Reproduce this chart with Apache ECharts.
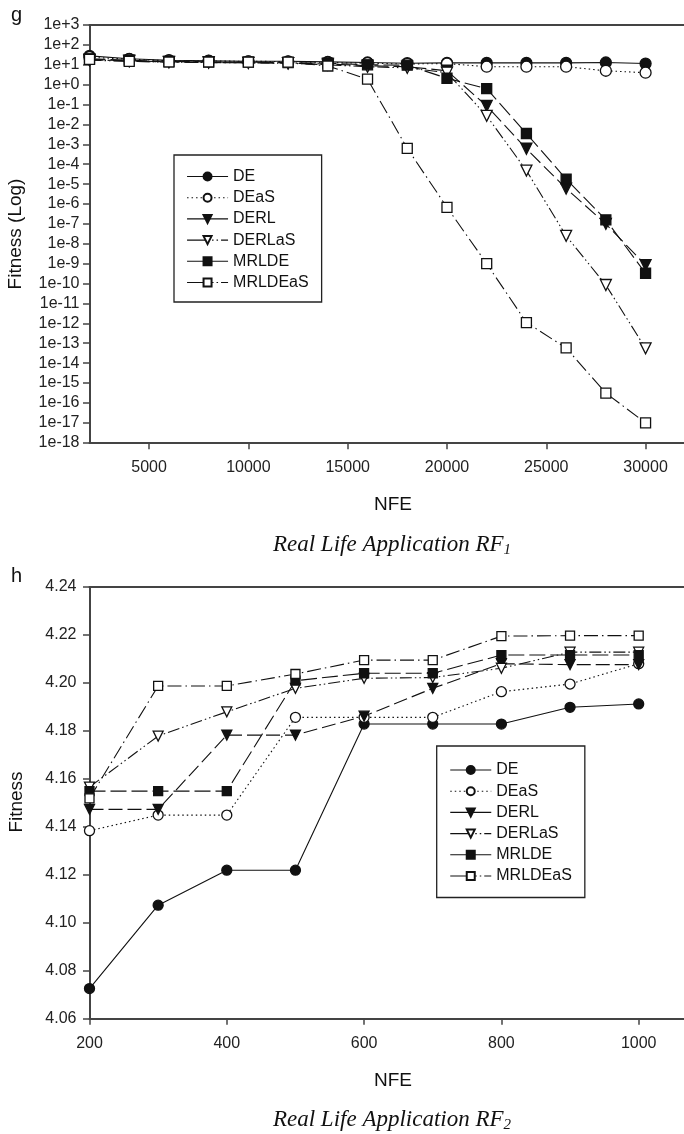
<!DOCTYPE html>
<html><head><meta charset="utf-8">
<script src="https://cdn.jsdelivr.net/npm/echarts@6/dist/echarts.min.js"></script>
<style>html,body{margin:0;padding:0;background:#fff}#c{width:684px;height:1134px}</style>
</head><body><div id="c"></div>
<script>
// ---------------- data ----------------
const seriesNames = ['DE', 'DEaS', 'DERL', 'DERLaS', 'MRLDE', 'MRLDEaS'];

// Panel g : Real Life Application RF1 (log fitness)
const nfeTop = [2000, 4000, 6000, 8000, 10000, 12000, 14000, 16000, 18000, 20000, 22000, 24000, 26000, 28000, 30000];
const topDE      = [28, 20, 17, 16, 15, 15, 14, 13, 12, 12.5, 12.5, 12.5, 12.5, 13, 11.5];
const topDEaS    = [24, 19, 16, 15.5, 15, 14.5, 13, 12, 11, 11.5, 8, 8, 8, 5, 4];
const topDERL    = [18, 16, 14, 13, 12.5, 12, 11, 9, 8, 5, 0.085, 6e-4, 6e-6, 1e-7, 8.5e-10];
const topDERLaS  = [17, 15, 13.5, 13, 12.5, 12, 10, 8, 7, 4, 0.027, 4.8e-5, 2.5e-8, 8.5e-11, 5.5e-14];
const topMRLDE   = [20, 17, 15, 14, 13.5, 13, 12, 10, 9.5, 2.1, 0.63, 3.5e-3, 1.8e-5, 1.6e-7, 3.3e-10];
const topMRLDEaS = [18.6, 15, 13.8, 13.8, 13.5, 13.5, 8.7, 1.9, 6.3e-4, 6.8e-7, 1e-9, 1.1e-12, 5.8e-14, 3.1e-16, 1e-17];
const topXTicks  = [5000, 10000, 15000, 20000, 25000, 30000];

// Panel h : Real Life Application RF2
const nfeBottom = [200, 300, 400, 500, 600, 700, 800, 900, 1000];
const botDE      = [4.0724, 4.1072, 4.1218, 4.1218, 4.1828, 4.1828, 4.1828, 4.1898, 4.1912];
const botDEaS    = [4.1383, 4.1448, 4.1448, 4.1856, 4.1856, 4.1856, 4.1963, 4.1995, 4.2080];
const botDERL    = [4.1472, 4.1472, 4.1782, 4.1782, 4.1861, 4.1977, 4.2080, 4.2076, 4.2076];
const botDERLaS  = [4.1565, 4.1778, 4.1879, 4.1977, 4.2019, 4.2022, 4.2061, 4.2128, 4.2128];
const botMRLDE   = [4.1548, 4.1548, 4.1548, 4.2009, 4.2040, 4.2040, 4.2116, 4.2116, 4.2116];
const botMRLDEaS = [4.1518, 4.1987, 4.1987, 4.2037, 4.2095, 4.2095, 4.2195, 4.2197, 4.2197];
const bottomXTicks = [200, 400, 600, 800, 1000];

// ---------------- styles ----------------
const ink = '#111';
const axisCol = '#444';
const triDown = 'path://M0,0L10,0L5,9Z';
const styleOf = {
  DE:      {symbol: 'circle', fill: ink,    dash: 'solid',            legendDash: 'solid'},
  DEaS:    {symbol: 'circle', fill: '#fff', dash: [1.5, 3],           legendDash: [1.5, 3]},
  DERL:    {symbol: triDown,  fill: ink,    dash: [14, 5],            legendDash: 'solid'},
  DERLaS:  {symbol: triDown,  fill: '#fff', dash: [12, 3, 1.5, 3, 1.5, 3], legendDash: [22, 3, 1.5, 3, 1.5, 3]},
  MRLDE:   {symbol: 'rect',   fill: ink,    dash: [16, 5],            legendDash: 'solid'},
  MRLDEaS: {symbol: 'rect',   fill: '#fff', dash: [14, 4, 1.5, 4],    legendDash: [22, 3, 1.5, 3, 1.5, 3]}
};
const sizeTop = {circle: 11, rect: 10, tri: 11};
const sizeBot = {circle: 10, rect: 9, tri: 10};

const topVals = [topDE, topDEaS, topDERL, topDERLaS, topMRLDE, topMRLDEaS];
const botVals = [botDE, botDEaS, botDERL, botDERLaS, botMRLDE, botMRLDEaS];

function mkSeries(name, xs, ys, idx, sizes) {
  const s = styleOf[name];
  const sz = s.symbol === 'circle' ? sizes.circle : (s.symbol === 'rect' ? sizes.rect : sizes.tri);
  return {
    name: name, type: 'line', xAxisIndex: idx, yAxisIndex: idx,
    data: xs.map((x, i) => [x, ys[i]]),
    symbol: s.symbol, symbolSize: sz, showAllSymbol: true,
    lineStyle: {color: ink, width: 1.1, type: s.dash},
    itemStyle: {color: s.fill, borderColor: ink, borderWidth: 1.3},
    emphasis: {disabled: true}, animation: false
  };
}
const series = [];
seriesNames.forEach((n, i) => series.push(mkSeries(n, nfeTop, topVals[i], 0, sizeTop)));
seriesNames.forEach((n, i) => series.push(mkSeries(n, nfeBottom, botVals[i], 1, sizeBot)));

const FONT = '"Liberation Sans", Arial, sans-serif';
const SERIF = '"Liberation Serif", "Times New Roman", serif';
const axLine = {show: true, lineStyle: {color: axisCol, width: 2}};
const axTick = {show: true, inside: false, length: 6.5, lineStyle: {color: axisCol, width: 1.5}};
const lblStyle = {color: '#222', fontSize: 16, fontFamily: FONT};

function legendFor(top, left, pad) {
  return {
    orient: 'vertical', left: left, top: top, padding: pad,
    itemWidth: 41, itemHeight: 10, itemGap: 5.2,
    backgroundColor: '#fff', borderColor: '#222', borderWidth: 1.3, borderRadius: 0,
    textStyle: {color: ink, fontSize: 16, fontFamily: FONT, lineHeight: 16},
    selectedMode: false,
    data: seriesNames.map(n => ({name: n, lineStyle: {type: styleOf[n].legendDash, width: 1.1, color: ink}}))
  };
}

const option = {
  backgroundColor: '#fff',
  animation: false,
  grid: [
    {left: 89.5, top: 25, right: 0, height: 417.7, containLabel: false},
    {left: 89.5, top: 587, right: 0, height: 431.3, containLabel: false}
  ],
  xAxis: [
    {type: 'value', gridIndex: 0, min: 2000, max: 31935,
     axisLine: axLine, axisTick: Object.assign({customValues: topXTicks}, axTick),
     axisLabel: Object.assign({customValues: topXTicks, margin: 17, formatter: v => String(v)}, lblStyle),
     splitLine: {show: false}},
    {type: 'value', gridIndex: 1, min: 200, max: 1066,
     axisLine: axLine, axisTick: Object.assign({customValues: bottomXTicks}, axTick),
     axisLabel: Object.assign({customValues: bottomXTicks, margin: 17, formatter: v => String(v)}, lblStyle),
     splitLine: {show: false}},
    {type: 'value', gridIndex: 0, position: 'top', min: 2000, max: 31935,
     axisLine: axLine, axisTick: {show: false}, axisLabel: {show: false}, splitLine: {show: false}},
    {type: 'value', gridIndex: 1, position: 'top', min: 200, max: 1066,
     axisLine: axLine, axisTick: {show: false}, axisLabel: {show: false}, splitLine: {show: false}}
  ],
  yAxis: [
    {type: 'log', logBase: 10, gridIndex: 0, min: 1e-18, max: 1e3, interval: 1,
     axisLine: axLine, axisTick: axTick,
     axisLabel: Object.assign({margin: 10, formatter: v => {
       const e = Math.round(Math.log10(v));
       return '1e' + (e >= 0 ? '+' : '') + e;
     }}, lblStyle),
     splitLine: {show: false}},
    {type: 'value', gridIndex: 1, min: 4.06, max: 4.24, interval: 0.02,
     axisLine: axLine, axisTick: axTick,
     axisLabel: Object.assign({margin: 13, formatter: v => v.toFixed(2)}, lblStyle),
     splitLine: {show: false}}
  ],
  legend: [
    legendFor(155, 174, [13.5, 13, 11.5, 12.5]),
    legendFor(746, 436.7, [16, 13, 13.5, 13])
  ],
  graphic: [
    {type: 'text', x: 16.6, y: 15, style: {text: 'g', font: '20px ' + FONT, fill: ink, align: 'center', verticalAlign: 'middle'}},
    {type: 'text', x: 16.6, y: 576, style: {text: 'h', font: '20px ' + FONT, fill: ink, align: 'center', verticalAlign: 'middle'}},
    {type: 'text', x: 16, y: 234, rotation: Math.PI / 2, style: {text: 'Fitness (Log)', font: '19px ' + FONT, fill: ink, align: 'center', verticalAlign: 'middle'}},
    {type: 'text', x: 16.5, y: 802, rotation: Math.PI / 2, style: {text: 'Fitness', font: '19px ' + FONT, fill: ink, align: 'center', verticalAlign: 'middle'}},
    {type: 'text', x: 393, y: 505, style: {text: 'NFE', font: '19px ' + FONT, fill: ink, align: 'center', verticalAlign: 'middle'}},
    {type: 'text', x: 393, y: 1080.6, style: {text: 'NFE', font: '19px ' + FONT, fill: ink, align: 'center', verticalAlign: 'middle'}},
    {type: 'text', x: 392, y: 545, style: {text: '{a|Real Life Application RF}{b|1}', align: 'center', verticalAlign: 'middle',
      rich: {a: {fontFamily: SERIF, fontStyle: 'italic', fontSize: 23, lineHeight: 26, fill: ink, color: ink},
             b: {fontFamily: SERIF, fontStyle: 'italic', fontSize: 15, lineHeight: 15, verticalAlign: 'bottom', fill: ink, color: ink}}}},
    {type: 'text', x: 392, y: 1120, style: {text: '{a|Real Life Application RF}{b|2}', align: 'center', verticalAlign: 'middle',
      rich: {a: {fontFamily: SERIF, fontStyle: 'italic', fontSize: 23, lineHeight: 26, fill: ink, color: ink},
             b: {fontFamily: SERIF, fontStyle: 'italic', fontSize: 15, lineHeight: 15, verticalAlign: 'bottom', fill: ink, color: ink}}}}
  ],
  series: series
};
const chart = echarts.init(document.getElementById('c'), null, {renderer: 'canvas'});
chart.setOption(option);
</script></body></html>
